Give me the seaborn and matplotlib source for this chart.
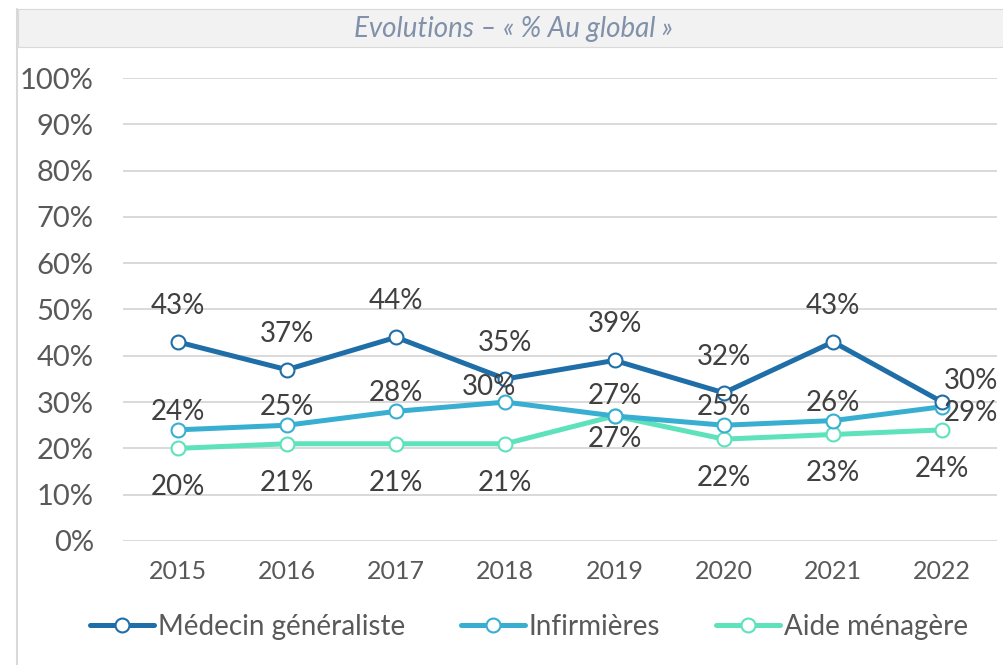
"""Evolutions - % au global, three series over 2015-2022."""
import matplotlib
matplotlib.use('Agg')
import matplotlib.pyplot as plt
from matplotlib.patches import Rectangle
from matplotlib.lines import Line2D
from matplotlib.ticker import FuncFormatter
import seaborn as sns

# data
years = [2015, 2016, 2017, 2018, 2019, 2020, 2021, 2022]
medecin = [43, 37, 44, 35, 39, 32, 43, 30]
infirmieres = [24, 25, 28, 30, 27, 25, 26, 29]
aide = [20, 21, 21, 21, 27, 22, 23, 24]
series_names = ['Médecin généraliste', 'Infirmières', 'Aide ménagère']
title = 'Evolutions – « % Au global »'

colors = ['#1f6ea8', '#38afd1', '#5de2bb']

# label offsets in pixels (default per series, then individual overrides)
default_offsets = [(0, 36), (0, 18), (0, -39)]
offset_overrides = {
    (1, 2018): (-16, 15),
    (1, 2019): (0, 20),
    (2, 2019): (0, -23),
    (0, 2022): (29, 21),
    (1, 2022): (29, -6),
}

sns.set_style('white')
plt.rcParams['font.family'] = ['Lato', 'DejaVu Sans']

fig = plt.figure(figsize=(10.04, 6.65), dpi=100)
ax = fig.add_axes([0.1225, 0.1865, 0.8705, 0.6962])

# title band and left frame line
fig.patches.append(Rectangle((18 / 1004, 1 - 47 / 665), 1 - 18 / 1004, 38 / 665,
                             transform=fig.transFigure, facecolor='#f2f2f2',
                             edgecolor='#d9d9d9', linewidth=0.8, zorder=0))
fig.lines.append(Line2D([17.5 / 1004, 17.5 / 1004], [0, 1 - 9 / 665],
                        transform=fig.transFigure, color='#d9d9d9', linewidth=1.5))
fig.text(513 / 1004, 1 - 29 / 665, title, ha='center', va='center',
         fontsize=20, style='italic', fontweight='normal', color='#8191a9',
         family=['Lato', 'DejaVu Sans'])

all_series = [medecin, infirmieres, aide]
for i, (values, name, color) in enumerate(zip(all_series, series_names, colors)):
    sns.lineplot(x=years, y=values, ax=ax, color=color, linewidth=3.6,
                 marker='o', markersize=10, markerfacecolor='white',
                 markeredgecolor=color, markeredgewidth=1.5, label=name,
                 zorder=3 + (2 - i))
    for year, v in zip(years, values):
        dx, dy = offset_overrides.get((i, year), default_offsets[i])
        ax.annotate(f'{v}%', (year, v), xytext=(dx, dy), textcoords='offset pixels',
                    ha='center', va='center', fontsize=20, color='#404040', zorder=10)

ax.set_xlim(years[0] - 0.5, years[-1] + 0.5)
ax.set_ylim(0, 100)
ax.set_yticks(range(0, 101, 10))
ax.yaxis.set_major_formatter(FuncFormatter(lambda v, p: f'{v:.0f}%'))
ax.set_xticks(years)
ax.set_xticklabels([str(y) for y in years])
ax.tick_params(axis='y', length=0, pad=21, labelsize=21, labelcolor='#595959')
ax.tick_params(axis='x', length=0, pad=14, labelsize=18, labelcolor='#595959')
ax.grid(axis='y', color='#d9d9d9', linewidth=1.4)
ax.set_axisbelow(True)
for s in ax.spines.values():
    s.set_visible(False)
ax.set_xlabel('')
ax.set_ylabel('')

ax.legend(loc='center', bbox_to_anchor=(529 / 1004, 1 - 627 / 665),
          bbox_transform=fig.transFigure, ncol=3, frameon=False, fontsize=20,
          handlelength=2.3, handletextpad=0.15, columnspacing=2.0,
          labelcolor='#595959')

fig.savefig('out.png', dpi=100)
